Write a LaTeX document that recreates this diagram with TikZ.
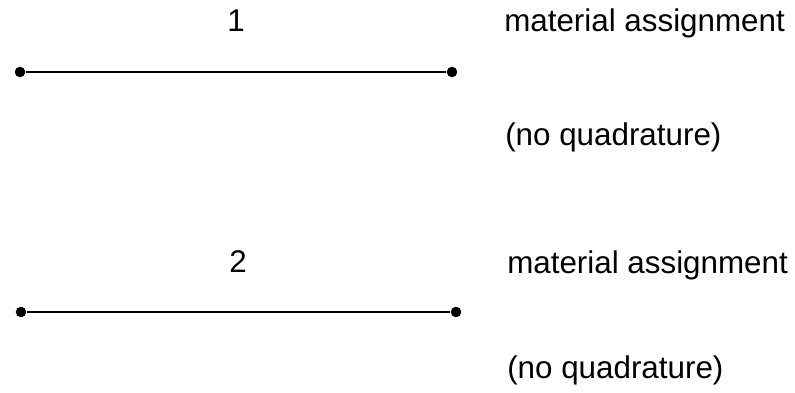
\documentclass[tikz,border=0pt]{standalone}
\usepackage{fontspec}
\setmainfont{Liberation Sans}
\usepackage{tikz}
\usetikzlibrary{positioning}

\begin{document}
\begin{tikzpicture}[
  x=0.025cm, y=-0.025cm,
  every node/.style={font=\fontsize{22.3pt}{25pt}\selectfont},
  enddot/.style={circle, fill=black, inner sep=0pt, minimum size=7.5pt},
  elem/.style={line width=1.4pt},
  lbl/.style={anchor=base west, inner sep=0pt},
  num/.style={anchor=base, inner sep=0pt},
]
  \useasboundingbox (0,0) rectangle (795,393);

  % element 1
  \node[enddot] (a1) at (20,72) {};
  \node[enddot] (b1) at (452,72) {};
  \draw[elem] (a1) -- (b1);
  \node[num] (n1) at (236,32) {1};
  \node[lbl] (m1) at (504,32) {material assignment};
  \node[lbl] (q1) at (505,146) {(no quadrature)};

  % element 2
  \node[enddot] (a2) at (21,312) {};
  \node[enddot] (b2) at (456,312) {};
  \draw[elem] (a2) -- (b2);
  \node[num] (n2) at (238,272) {2};
  \node[lbl] (m2) at (507,273) {material assignment};
  \node[lbl] (q2) at (507,378) {(no quadrature)};
\end{tikzpicture}
\end{document}
